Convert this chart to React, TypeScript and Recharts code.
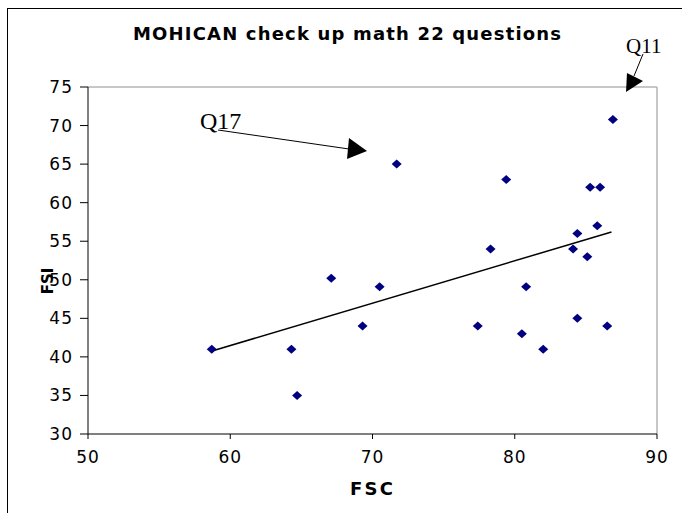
import { ReferenceLine, Scatter, ScatterChart, XAxis, YAxis } from "recharts";

const fscValues = [
  58.7, 64.3, 64.7, 67.1, 69.3, 70.5, 71.7, 77.4, 78.3, 79.4, 80.5, 80.8,
  82.0, 84.1, 84.4, 84.4, 85.1, 85.3, 86.0, 85.8, 86.5, 86.9,
];
const fsiValues = [
  41, 41, 35, 50.2, 44, 49.1, 65, 44, 54, 63, 43, 49.1, 41, 54, 56, 45, 53,
  62, 62, 57, 44, 70.8,
];
const xTicks = [50, 60, 70, 80, 90];
const yTicks = [30, 35, 40, 45, 50, 55, 60, 65, 70, 75];
const trendStart = { x: 58.6, y: 40.7 };
const trendEnd = { x: 86.8, y: 56.2 };

const points = fscValues.map((x, i) => ({ x, y: fsiValues[i] }));

const tickFont = {
  fill: "#000",
  fontSize: 17,
  fontFamily: "DejaVu Sans",
  letterSpacing: 1,
};

function Diamond(props: any) {
  const { cx, cy } = props;
  if (cx == null || cy == null) return null;
  return (
    <polygon
      points={`${cx - 5},${cy} ${cx},${cy - 4.5} ${cx + 5},${cy} ${cx},${cy + 4.5}`}
      fill="#000080"
    />
  );
}

export default function App() {
  return (
    <div
      style={{
        position: "absolute",
        left: 0,
        top: 0,
        width: 682,
        height: 513,
        overflow: "hidden",
        background: "#fff",
      }}
    >
      <div
        style={{
          position: "absolute",
          left: 7,
          top: 8,
          width: 800,
          height: 700,
          borderLeft: "1px solid #000",
          borderTop: "1px solid #000",
        }}
      />
      <div style={{ position: "absolute", left: 0, top: 0 }}>
        <ScatterChart
          width={682}
          height={513}
          margin={{ top: 87, right: 25, bottom: 39, left: 0 }}
        >
          <XAxis
            type="number"
            dataKey="x"
            domain={[50, 90]}
            ticks={xTicks}
            tick={tickFont}
            tickSize={5}
            tickMargin={12}
            height={40}
            stroke="#000"
            allowDataOverflow
          />
          <YAxis
            type="number"
            dataKey="y"
            domain={[30, 75]}
            ticks={yTicks}
            tick={tickFont}
            tickSize={8}
            tickMargin={7}
            width={88}
            stroke="#000"
            allowDataOverflow
          />
          <ReferenceLine y={75} stroke="#b4b4b4" strokeWidth={1.5} />
          <ReferenceLine x={90} stroke="#b4b4b4" strokeWidth={1.5} />
          <ReferenceLine
            segment={[trendStart, trendEnd]}
            stroke="#000"
            strokeWidth={1.5}
          />
          <Scatter
            data={points}
            shape={<Diamond />}
            isAnimationActive={false}
          />
        </ScatterChart>
      </div>
      <svg
        width={682}
        height={513}
        style={{ position: "absolute", left: 0, top: 0, pointerEvents: "none" }}
      >
        <text
          x={133}
          y={40}
          fontFamily="DejaVu Sans"
          fontWeight="bold"
          fontSize={18}
          textLength={428}
          fill="#000"
        >
          MOHICAN check up math 22 questions
        </text>
        <text
          x={350}
          y={495}
          fontFamily="DejaVu Sans"
          fontWeight="bold"
          fontSize={18}
          textLength={43}
          fill="#000"
        >
          FSC
        </text>
        <text
          x={53}
          y={281}
          transform="rotate(-90 53 281)"
          textAnchor="middle"
          fontFamily="DejaVu Sans"
          fontWeight="bold"
          fontSize={15}
          fill="#000"
        >
          FSI
        </text>
        <text x={200} y={129} fontFamily="Liberation Serif" fontSize={24} fill="#000">
          Q17
        </text>
        <line x1={218} y1={130} x2={349} y2={149} stroke="#000" strokeWidth={1} />
        <polygon points="367,151 349,138 347,159" fill="#000" />
        <text x={626} y={53} fontFamily="Liberation Serif" fontSize={21} fill="#000">
          Q11
        </text>
        <line x1={643} y1={54} x2={634} y2={76} stroke="#000" strokeWidth={1} />
        <polygon points="626,92 627,73 643,81" fill="#000" />
      </svg>
    </div>
  );
}
